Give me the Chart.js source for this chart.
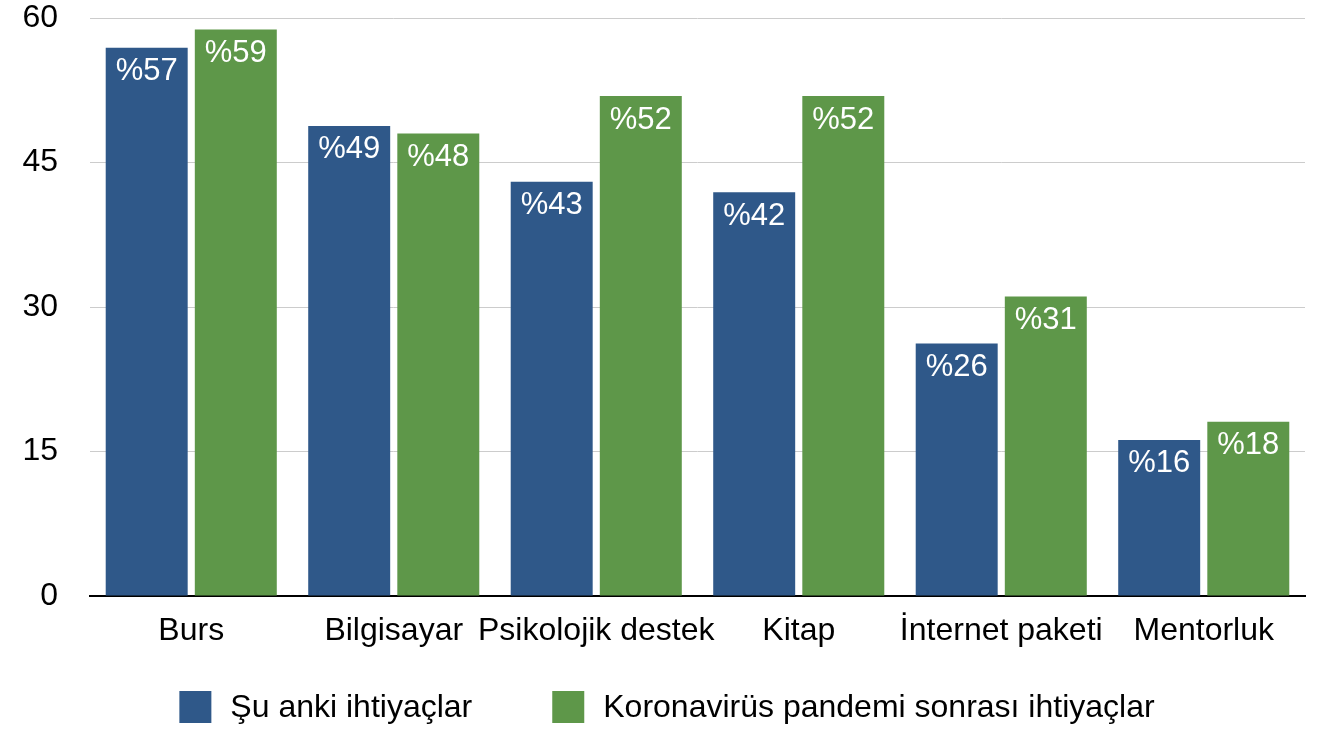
<!DOCTYPE html>
<html>
<head>
<meta charset="utf-8">
<script src="https://cdn.jsdelivr.net/npm/chart.js@4/dist/chart.umd.min.js"></script>
<style>
  html, body { margin: 0; padding: 0; background: #fff; }
  #wrap { width: 1318px; height: 731px; }
</style>
</head>
<body>
<div id="wrap"><canvas id="chart" width="1318" height="731"></canvas></div>
<script>
// values
const categories = ['Burs', 'Bilgisayar', 'Psikolojik destek', 'Kitap', 'İnternet paketi', 'Mentorluk'];
const seriesNames = ['Şu anki ihtiyaçlar', 'Koronavirüs pandemi sonrası ihtiyaçlar'];
const currentNeeds = [56.9, 48.8, 43.0, 41.9, 26.2, 16.2];
const afterPandemicNeeds = [58.8, 48.0, 51.9, 51.9, 31.1, 18.1];
const currentLabels = ['%57', '%49', '%43', '%42', '%26', '%16'];
const afterPandemicLabels = ['%59', '%48', '%52', '%52', '%31', '%18'];
const yTicks = [0, 15, 30, 45, 60];

const FONT = '"Liberation Sans", Arial, Helvetica, sans-serif';
const BLUE = '#2f5889';
const GREEN = '#5e9749';

// white value labels just under the top of each bar
const barLabels = {
  id: 'barLabels',
  afterDatasetsDraw(chart) {
    const ctx = chart.ctx;
    ctx.save();
    ctx.fillStyle = '#fff';
    ctx.font = '31px ' + FONT;
    ctx.textAlign = 'center';
    ctx.textBaseline = 'middle';
    chart.data.datasets.forEach((ds, i) => {
      chart.getDatasetMeta(i).data.forEach((bar, j) => {
        ctx.fillText(ds.valueLabels[j], bar.x, bar.y + 24);
      });
    });
    ctx.restore();
  }
};

// legend row under the axis (built-in legend can't space items this wide)
const bottomLegend = {
  id: 'bottomLegend',
  afterDraw(chart) {
    const ctx = chart.ctx;
    const box = 32, textGap = 19, itemGap = 80, top = 691;
    ctx.save();
    ctx.font = '32px ' + FONT;
    ctx.textBaseline = 'middle';
    const items = chart.data.datasets.map(ds => ({ text: ds.label, color: ds.backgroundColor, w: ctx.measureText(ds.label).width }));
    const total = items.reduce((s, it) => s + box + textGap + it.w, 0) + itemGap * (items.length - 1);
    let x = 667 - total / 2;
    items.forEach(it => {
      ctx.fillStyle = it.color;
      ctx.fillRect(x, top, box, box);
      ctx.fillStyle = '#000';
      ctx.fillText(it.text, x + box + textGap, top + box / 2 + 1);
      x += box + textGap + it.w + itemGap;
    });
    ctx.restore();
  }
};

new Chart(document.getElementById('chart'), {
  type: 'bar',
  data: {
    labels: categories,
    datasets: [
      { label: seriesNames[0], data: currentNeeds, valueLabels: currentLabels, backgroundColor: BLUE },
      { label: seriesNames[1], data: afterPandemicNeeds, valueLabels: afterPandemicLabels, backgroundColor: GREEN }
    ]
  },
  options: {
    responsive: false,
    animation: false,
    categoryPercentage: 0.88,
    barPercentage: 0.92,
    layout: { padding: { top: 18, right: 13, left: 0, bottom: 75 } },
    plugins: {
      tooltip: { enabled: false },
      legend: { display: false }
    },
    scales: {
      x: {
        grid: { display: false },
        border: { display: true, color: '#000', width: 2 },
        ticks: { color: '#000', font: { family: FONT, size: 32 }, padding: 8, maxRotation: 0, autoSkip: false },
        afterFit(scale) { scale.height = 60; }
      },
      y: {
        min: 0,
        max: 60,
        afterBuildTicks(scale) { scale.ticks = yTicks.map(v => ({ value: v })); },
        grid: { color: '#cccccc', lineWidth: 1, drawTicks: false },
        border: { display: false },
        ticks: { color: '#000', font: { family: FONT, size: 32 }, padding: 32 },
        afterFit(scale) {
          scale.width = 90;
          scale.paddingTop = 0;
          scale.paddingBottom = 0;
        }
      }
    }
  },
  plugins: [barLabels, bottomLegend]
});
</script>
</body>
</html>
